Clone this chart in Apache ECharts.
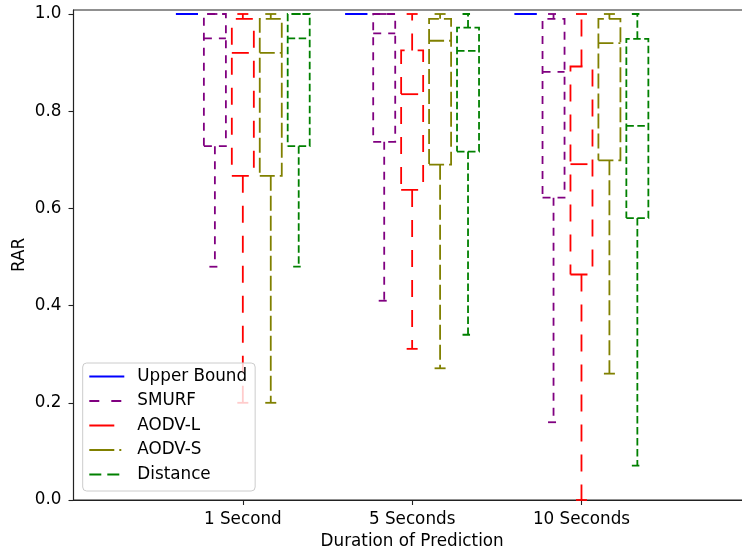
<!DOCTYPE html>
<html>
<head>
<meta charset="utf-8">
<script src="https://cdn.jsdelivr.net/npm/echarts@6/dist/echarts.min.js"></script>
<style>
html,body{margin:0;padding:0;background:#fff;}
#chart{width:742px;height:553px;}
</style>
</head>
<body>
<div id="chart"></div>
<script>
// ---- data: each entry is [min, q1, median, q3, max] per category ----
const categories = ['1 Second', '5 Seconds', '10 Seconds'];
const seriesNames = ['Upper Bound', 'SMURF', 'AODV-L', 'AODV-S', 'Distance'];
const upperBound = [[1.0, 1.0, 1.0, 1.0, 1.0], [1.0, 1.0, 1.0, 1.0, 1.0], [1.0, 1.0, 1.0, 1.0, 1.0]];
const smurf      = [[0.48, 0.728, 0.95, 1.0, 1.0], [0.41, 0.737, 0.96, 1.0, 1.0], [0.16, 0.622, 0.881, 0.99, 1.0]];
const aodvL      = [[0.20, 0.667, 0.92, 0.99, 1.0], [0.311, 0.638, 0.835, 0.925, 1.0], [0.0, 0.464, 0.691, 0.892, 1.0]];
const aodvS      = [[0.20, 0.667, 0.92, 0.99, 1.0], [0.271, 0.69, 0.945, 0.99, 1.0], [0.26, 0.699, 0.94, 0.99, 1.0]];
const distance   = [[0.48, 0.728, 0.95, 1.0, 1.0], [0.34, 0.717, 0.924, 0.972, 1.0], [0.0706, 0.58, 0.77, 0.949, 1.0]];
const yTicks = [0, 0.2, 0.4, 0.6, 0.8, 1.0];

const allData = [upperBound, smurf, aodvL, aodvS, distance];
const colors = ['#0000ff', '#800080', '#ff0000', '#808000', '#008000'];
const plotDash = [null, [8, 7], [17, 13], [15, 5], [7.5, 3.5]];
const legendDash = [null, [10, 12], [25, 15], [25, 5, 2, 5], [12, 6]];
const offsets = [-0.33, -0.165, 0, 0.165, 0.33];
const boxWidth = 0.13;
const capWidth = 0.065;
const LW = 1.8;
const FONT = 'DejaVu Sans';
const FS = 16.8;

function makeRender(color, dash) {
  return function (params, api) {
    const x = api.value(0);
    const mn = api.value(1), q1 = api.value(2), md = api.value(3), q3 = api.value(4), mx = api.value(5);
    const hw = api.size([boxWidth, 0])[0] / 2;
    const hc = api.size([capWidth, 0])[0] / 2;
    const cx = api.coord([x, q1])[0];
    const y = v => api.coord([x, v])[1];
    const style = { stroke: color, lineWidth: LW, fill: null, lineDash: dash };
    const kids = [];
    kids.push({ type: 'polyline', shape: { points: [[cx, y(q1)], [cx, y(mn)]] }, style: style });
    kids.push({ type: 'polyline', shape: { points: [[cx, y(q3)], [cx, y(mx)]] }, style: style });
    kids.push({ type: 'polyline', shape: { points: [[cx - hc, y(mn)], [cx + hc, y(mn)]] }, style: style });
    kids.push({ type: 'polyline', shape: { points: [[cx - hc, y(mx)], [cx + hc, y(mx)]] }, style: style });
    kids.push({ type: 'polyline', shape: { points: [[cx - hw, y(q1)], [cx + hw, y(q1)], [cx + hw, y(q3)], [cx - hw, y(q3)], [cx - hw, y(q1)]] }, style: style });
    kids.push({ type: 'polyline', shape: { points: [[cx - hw, y(md)], [cx + hw, y(md)]] }, style: style });
    return { type: 'group', children: kids };
  };
}

const series = [];
seriesNames.forEach((name, i) => {
  series.push({
    type: 'line', name: name, data: [], symbol: 'none',
    lineStyle: { color: colors[i], width: 2.3, type: legendDash[i] || 'solid' },
    itemStyle: { color: colors[i] }
  });
});
seriesNames.forEach((name, i) => {
  const d = allData[i].map((v, c) => [c + 1 + offsets[i], v[0], v[1], v[2], v[3], v[4]]);
  series.push({
    type: 'custom', name: name + ' box', data: d,
    renderItem: makeRender(colors[i], plotDash[i]),
    encode: { x: 0, y: [1, 2, 3, 4, 5] },
    clip: false, z: 3
  });
});

const chart = echarts.init(document.getElementById('chart'), null, { renderer: 'canvas' });
chart.setOption({
  animation: false,
  backgroundColor: '#ffffff',
  textStyle: { fontFamily: FONT },
  grid: { left: 73.5, top: 10, width: 677.3, height: 490, show: true, borderColor: '#222', borderWidth: 1.1, containLabel: false, outerBoundsMode: 'none' },
  xAxis: {
    type: 'value', min: 0, max: 4,
    name: 'Duration of Prediction', nameLocation: 'middle', nameGap: 33, nameMoveOverlap: false,
    nameTextStyle: { fontFamily: FONT, fontSize: FS, color: '#000' },
    axisLine: { show: true, onZero: false, lineStyle: { color: '#222', width: 1.1 } },
    axisTick: { show: true, length: 5, customValues: [1, 2, 3], lineStyle: { color: '#222', width: 1.1 } },
    axisLabel: {
      customValues: [1, 2, 3], margin: 11,
      formatter: v => categories[Math.round(v) - 1] || '',
      fontFamily: FONT, fontSize: FS, color: '#000'
    },
    splitLine: { show: false }
  },
  yAxis: {
    type: 'value', min: 0, max: 490 / 486,
    name: 'RAR', nameLocation: 'middle', nameGap: 45, nameRotate: 90, nameMoveOverlap: false,
    nameTextStyle: { fontFamily: FONT, fontSize: FS, color: '#000' },
    axisLine: { show: true, lineStyle: { color: '#222', width: 1.1 } },
    axisTick: { show: true, length: 5, customValues: yTicks, lineStyle: { color: '#222', width: 1.1 } },
    axisLabel: {
      customValues: yTicks, margin: 12,
      formatter: v => v.toFixed(1),
      fontFamily: FONT, fontSize: FS, color: '#000'
    },
    splitLine: { show: false }
  },
  legend: {
    data: seriesNames,
    orient: 'vertical', left: 82.7, top: 363,
    itemWidth: 35, itemHeight: 17, itemGap: 7.5,
    padding: [5, 8, 8, 5.6],
    backgroundColor: 'rgba(255,255,255,0.8)', borderColor: '#cccccc', borderWidth: 1, borderRadius: 4,
    itemStyle: { opacity: 0 },
    textStyle: { fontFamily: FONT, fontSize: FS, color: '#000', padding: [0, 0, 0, 8] },
    selectedMode: false
  },
  series: series
});
</script>
</body>
</html>
